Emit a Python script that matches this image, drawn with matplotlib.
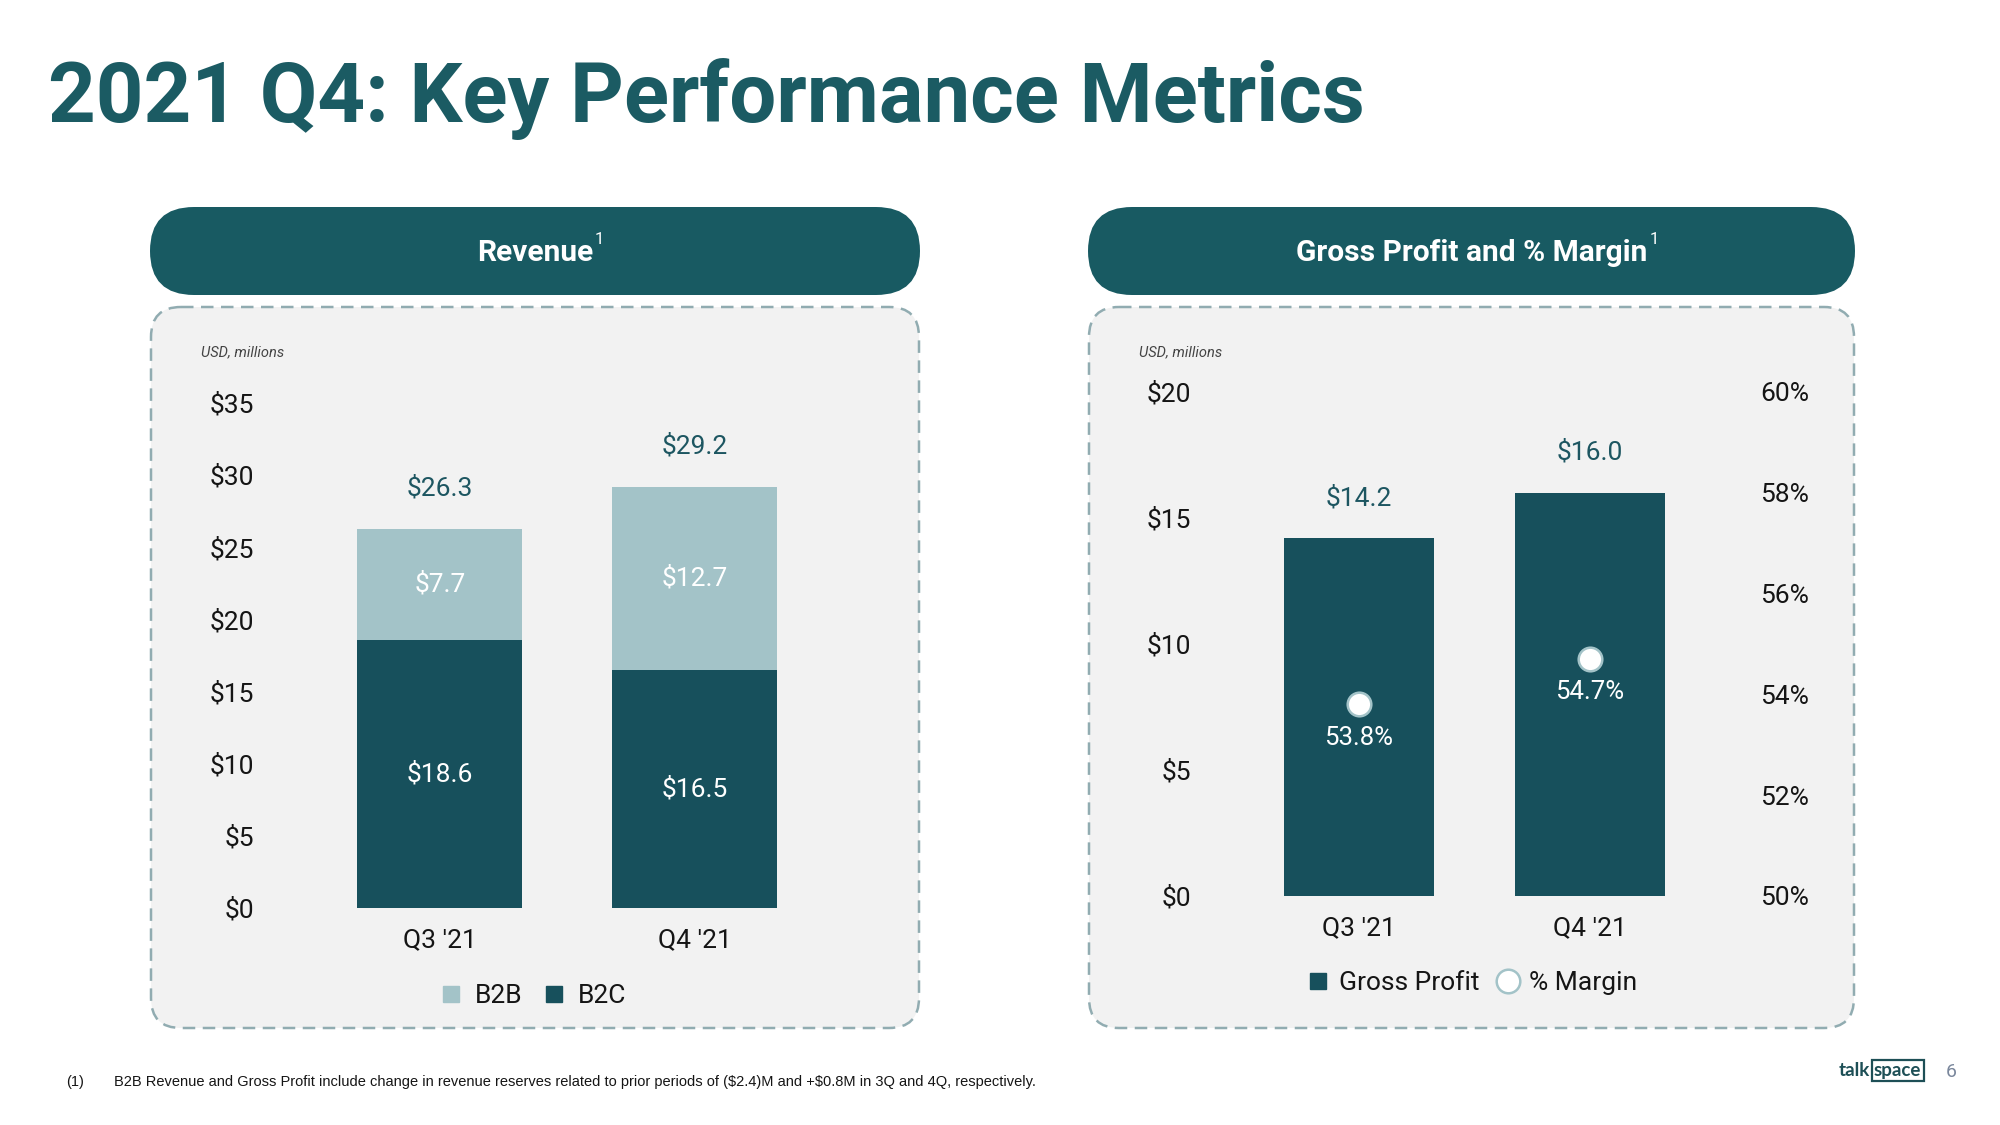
import matplotlib
matplotlib.use("Agg")
import matplotlib.pyplot as plt
from matplotlib.patches import FancyBboxPatch
from matplotlib.lines import Line2D
import numpy as np

plt.rcParams['font.family'] = ['Roboto', 'DejaVu Sans']

# --- data ---
quarters = ["Q3 '21", "Q4 '21"]
b2c_rev = [18.6, 16.5]
b2b_rev = [7.7, 12.7]
total_rev = [26.3, 29.2]
gross_profit = [14.2, 16.0]
margin_pct = [53.8, 54.7]

rev_ticks = [0, 5, 10, 15, 20, 25, 30, 35]
gp_ticks = [0, 5, 10, 15, 20]
pct_ticks = [50, 52, 54, 56, 58, 60]

# colours
DARK = '#17505c'
LIGHT = '#a3c3c8'
PILL = '#185a62'
TITLE = '#1b5b63'
BOXBG = '#f2f2f2'
BOXEDGE = '#91acb1'
VALTXT = '#1d5661'
INK = '#151515'

W, H = 2000, 1125
fig = plt.figure(figsize=(20, 11.25), dpi=100)
fig.patch.set_facecolor('white')


def px_axes(left, top, right, bottom, **kw):
    # pixel box (origin top-left) -> figure fraction axes
    return fig.add_axes([left / W, 1 - bottom / H, (right - left) / W, (bottom - top) / H], **kw)


# background layer for title, pills, dashed panels, footer
bg = fig.add_axes([0, 0, 1, 1], zorder=0)
bg.set_xlim(0, W)
bg.set_ylim(H, 0)
bg.axis('off')

bg.text(48, 122, "2021 Q4: Key Performance Metrics", fontsize=60, fontweight='bold',
        color=TITLE, va='baseline', ha='left')

panels = [(150, 920, "Revenue"), (1088, 1855, "Gross Profit and % Margin")]
header_texts = []
for x0, x1, label in panels:
    pill = FancyBboxPatch((x0, 207), x1 - x0, 88, boxstyle="round,pad=0,rounding_size=44",
                          fc=PILL, ec='none')
    bg.add_patch(pill)
    box = FancyBboxPatch((x0 + 1, 307), x1 - x0 - 2, 721, boxstyle="round,pad=0,rounding_size=30",
                         fc=BOXBG, ec=BOXEDGE, lw=1.8, ls=(0, (5, 3)))
    bg.add_patch(box)
    t = bg.text((x0 + x1) / 2, 261, label, fontsize=21.5, fontweight='bold', color='white',
                ha='center', va='baseline')
    header_texts.append(t)
    bg.text(x0 + 51, 352, "USD, millions", fontsize=10.5, style='italic', color='#444444',
            ha='left', va='center')

# footnote + logo
foot_font = ['Liberation Sans', 'DejaVu Sans']
bg.text(66, 1082, "(1)", fontsize=10.5, family=foot_font, color=INK, va='center')
bg.text(114, 1082, "B2B Revenue and Gross Profit include change in revenue reserves related to prior "
        "periods of ($2.4)M and +$0.8M in 3Q and 4Q, respectively.",
        fontsize=10.5, family=foot_font, color=INK, va='center', parse_math=False)
bg.text(1870, 1076, "talk", fontsize=13.5, fontweight='bold', family=['Lato', 'DejaVu Sans'],
        color='#1d4f56', ha='right', va='baseline')
bg.text(1874, 1076, "space", fontsize=13.5, fontweight='bold', family=['Lato', 'DejaVu Sans'],
        color='#1d4f56', ha='left', va='baseline',
        bbox=dict(boxstyle='square,pad=0.12', fc='none', ec='#1d4f56', lw=1.6))
bg.text(1951, 1072, "6", fontsize=14, color='#7a879c', ha='center', va='center')


def style_axis(ax):
    ax.set_facecolor('none')
    for s in ax.spines.values():
        s.set_visible(False)
    ax.tick_params(length=0, labelsize=19, colors=INK)


# ---------------- Revenue (stacked) ----------------
ax1 = px_axes(254, 403, 900, 908, zorder=2)
style_axis(ax1)
x = np.arange(len(quarters))
w = 0.647
ax1.bar(x, b2c_rev, w, color=DARK, label='B2C', zorder=2)
ax1.bar(x, b2b_rev, w, bottom=b2c_rev, color=LIGHT, label='B2B', zorder=2)
ax1.set_xlim(-0.729, 1.804)
ax1.set_ylim(0, 35)
ax1.set_yticks(rev_ticks)
ax1.set_yticklabels([f"${v}" for v in rev_ticks])
ax1.tick_params(axis='y', pad=0)
ax1.set_xticks(x)
ax1.set_xticklabels(quarters)
ax1.tick_params(axis='x', pad=14.5)

for i in range(len(quarters)):
    ax1.text(x[i], b2c_rev[i] / 2, f"${b2c_rev[i]:.1f}", color='white', fontsize=19,
             ha='center', va='center')
    ax1.text(x[i], b2c_rev[i] + b2b_rev[i] / 2, f"${b2b_rev[i]:.1f}", color='white', fontsize=19,
             ha='center', va='center')
    ax1.annotate(f"${total_rev[i]:.1f}", (x[i], total_rev[i]), xytext=(0, 29),
                 textcoords='offset points', color=VALTXT, fontsize=19, ha='center', va='center')

h_rev = [Line2D([], [], marker='s', ls='none', ms=11, mfc=LIGHT, mec=LIGHT),
         Line2D([], [], marker='s', ls='none', ms=11, mfc=DARK, mec=DARK)]
ax1.legend(h_rev, ['B2B', 'B2C'], loc='center', bbox_to_anchor=(535 / W, 1 - 996 / H),
           bbox_transform=fig.transFigure, ncol=2, frameon=False, fontsize=19,
           handlelength=0.6, handletextpad=0.6, columnspacing=0.9, labelcolor=INK)

# ---------------- Gross profit + margin ----------------
ax2 = px_axes(1191, 392, 1760, 896, zorder=2)
style_axis(ax2)
x2 = np.arange(len(quarters))
w2 = 0.649
ax2.bar(x2, gross_profit, w2, color=DARK, zorder=2)
ax2.set_xlim(-0.727, 1.736)
ax2.set_ylim(0, 20)
ax2.set_yticks(gp_ticks)
ax2.set_yticklabels([f"${v}" for v in gp_ticks])
ax2.tick_params(axis='y', pad=0)
ax2.set_xticks(x2)
ax2.set_xticklabels(quarters)
ax2.tick_params(axis='x', pad=14.5)
for i in range(len(quarters)):
    ax2.annotate(f"${gross_profit[i]:.1f}", (x2[i], gross_profit[i]), xytext=(0, 29),
                 textcoords='offset points', color=VALTXT, fontsize=19, ha='center', va='center')

ax3 = ax2.twinx()
style_axis(ax3)
ax3.set_zorder(3)
ax3.set_ylim(50, 60)
ax3.set_yticks(pct_ticks)
ax3.set_yticklabels([f"{v}%" for v in pct_ticks])
ax3.tick_params(axis='y', pad=0)
ax3.plot(x2, margin_pct, ls='none', marker='o', ms=17, mfc='white', mec=LIGHT, mew=1.8, zorder=4)
for i in range(len(quarters)):
    ax3.annotate(f"{margin_pct[i]:.1f}%", (x2[i], margin_pct[i]), xytext=(0, -24),
                 textcoords='offset points', color='white', fontsize=18.5, ha='center', va='center')

h_gp = [Line2D([], [], marker='s', ls='none', ms=11, mfc=DARK, mec=DARK),
        Line2D([], [], marker='o', ls='none', ms=17, mfc='white', mec=LIGHT, mew=1.8)]
ax3.legend(h_gp, ['Gross Profit', '% Margin'], loc='center', bbox_to_anchor=(1473 / W, 1 - 983 / H),
           bbox_transform=fig.transFigure, ncol=2, frameon=False, fontsize=19,
           handlelength=0.7, handletextpad=0.45, columnspacing=0.7, labelcolor=INK)

# superscript footnote markers on the pill headers
fig.canvas.draw()
renderer = fig.canvas.get_renderer()
for t in header_texts:
    bb = t.get_window_extent(renderer)
    bg.text(bb.x1 + 2, 232, "1", fontsize=12, color='white', ha='left', va='top')

fig.savefig("out.png", dpi=100, facecolor='white')
